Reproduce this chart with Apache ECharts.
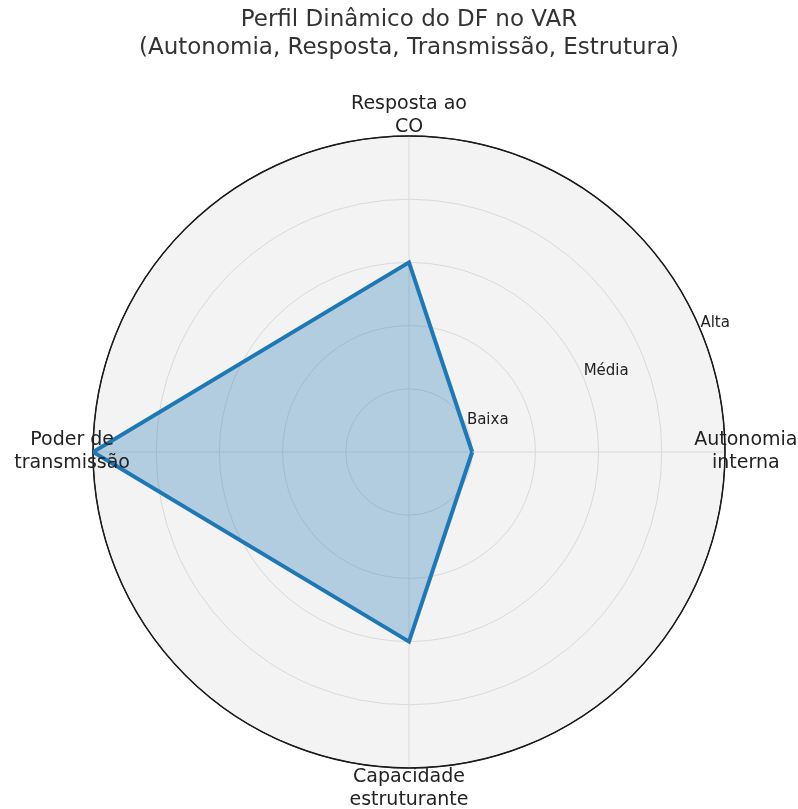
<!DOCTYPE html>
<html>
<head>
<meta charset="utf-8">
<script src="https://cdn.jsdelivr.net/npm/echarts@6/dist/echarts.min.js"></script>
<style>
  html, body { margin: 0; padding: 0; background: #fff; }
  #chart { width: 798px; height: 809px; }
</style>
</head>
<body>
<div id="chart"></div>
<script>
// eixos (sentido anti-horário, começando à direita)
var categories = ['Autonomia\ninterna', 'Resposta ao\nCO', 'Poder de\ntransmissão', 'Capacidade\nestruturante'];
var angles = [0, 90, 180, 270];
var values = [1, 3, 5, 3];
var levelLabels = ['Baixa', 'Média', 'Alta'];
var levelValues = [1, 3, 5];

var font = 'DejaVu Sans';
var cx = 409, cy = 452, R = 316;
var gridColor = '#d9d9d9';

// polígono fechado: repete o primeiro ponto em 360°
var linePts = values.map(function(v, i) { return [v, angles[i]]; });
linePts.push([values[0], 360]);

var namePts = categories.map(function(c, i) { return {name: c, value: [5.33, angles[i]]}; });
var levelPts = levelLabels.map(function(l, i) { return {name: l, value: [levelValues[i], 22.5]}; });

var hidden = {
    axisLine: {show: false}, axisTick: {show: false},
    axisLabel: {show: false}, splitLine: {show: false}
};

var chart = echarts.init(document.getElementById('chart'));
chart.setOption({
    backgroundColor: '#fff',
    animation: false,
    title: {
        text: 'Perfil Dinâmico do DF no VAR\n(Autonomia, Resposta, Transmissão, Estrutura)',
        left: 404,
        top: 1,
        textAlign: 'center',
        textStyle: {fontFamily: font, fontSize: 23, fontWeight: 'normal', color: '#333', lineHeight: 28}
    },
    // polar 0: só o fundo cinza; polar 1: grade
    polar: [
        {center: [cx, cy], radius: R},
        {center: [cx, cy], radius: R}
    ],
    angleAxis: [
        $extend({polarIndex: 0, type: 'value', min: 0, max: 360, interval: 90, z: 0}, hidden),
        {
            polarIndex: 1, z: 1,
            type: 'value', min: 0, max: 360, interval: 90,
            startAngle: 0, clockwise: false,
            axisLine: {show: true, lineStyle: {color: '#1a1a1a', width: 1.5}},
            axisTick: {show: false},
            axisLabel: {show: false},
            splitLine: {show: true, lineStyle: {color: gridColor, width: 1}}
        }
    ],
    radiusAxis: [
        $extend({
            polarIndex: 0, z: 0, type: 'value', min: 0, max: 5, interval: 1,
            splitArea: {show: true, areaStyle: {color: ['#f3f3f3']}}
        }, hidden),
        {
            polarIndex: 1, z: 1,
            type: 'value', min: 0, max: 5, interval: 1,
            axisLine: {show: false},
            axisTick: {show: false},
            axisLabel: {show: false},
            splitLine: {show: true, lineStyle: {color: [gridColor, gridColor, gridColor, gridColor, gridColor, '#1a1a1a'], width: 1}}
        }
    ],
    series: [
        {
            type: 'line',
            coordinateSystem: 'polar',
            polarIndex: 1,
            data: linePts,
            symbol: 'none',
            lineStyle: {color: '#1f77b4', width: 4, join: 'miter'},
            areaStyle: {color: '#1f77b4', opacity: 0.3},
            z: 2
        },
        {
            type: 'scatter',
            coordinateSystem: 'polar',
            polarIndex: 1,
            data: namePts,
            symbolSize: 1,
            itemStyle: {color: 'rgba(0,0,0,0)', opacity: 1},
            clip: false,
            silent: true,
            z: 5,
            label: {
                show: true, position: 'inside', formatter: '{b}',
                align: 'center', verticalAlign: 'middle',
                fontFamily: font, fontSize: 19, lineHeight: 23, color: '#222'
            }
        },
        {
            type: 'scatter',
            coordinateSystem: 'polar',
            polarIndex: 1,
            data: levelPts,
            symbolSize: 1,
            itemStyle: {color: 'rgba(0,0,0,0)', opacity: 1},
            clip: false,
            silent: true,
            z: 5,
            label: {
                show: true, position: [0, 0], formatter: '{b}',
                align: 'left', verticalAlign: 'bottom',
                fontFamily: font, fontSize: 15, color: '#222'
            }
        }
    ]
});

function $extend(a, b) {
    for (var k in b) { if (!(k in a)) a[k] = b[k]; }
    return a;
}
</script>
</body>
</html>
